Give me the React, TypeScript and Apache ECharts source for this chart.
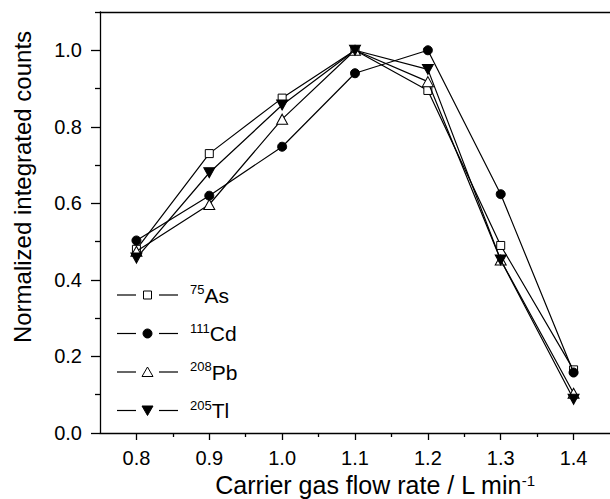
import React, { useEffect, useRef } from "react";
import * as echarts from "echarts";

const flowRates = [0.8, 0.9, 1.0, 1.1, 1.2, 1.3, 1.4];
const asValues = [0.48, 0.73, 0.875, 1.0, 0.895, 0.49, 0.165];
const cdValues = [0.503, 0.62, 0.748, 0.94, 1.0, 0.624, 0.158];
const pbValues = [0.475, 0.597, 0.82, 1.0, 0.918, 0.452, 0.104];
const tlValues = [0.457, 0.68, 0.857, 1.0, 0.95, 0.452, 0.088];

const isotopes = ["75", "111", "208", "205"];
const elements = ["As", "Cd", "Pb", "Tl"];

const xMajorTicks = [0.8, 0.9, 1.0, 1.1, 1.2, 1.3, 1.4];
const xMinorTicks = [0.85, 0.95, 1.05, 1.15, 1.25, 1.35];
const yMajorTicks = [0, 0.2, 0.4, 0.6, 0.8, 1.0];
const yMinorTicks = [0.1, 0.3, 0.5, 0.7, 0.9, 1.1];

const FONT = '"Liberation Sans", Arial, Helvetica, sans-serif';

export default function App() {
  const ref = useRef<HTMLDivElement>(null);
  useEffect(() => {
    if (!ref.current) return;
    const chart = echarts.init(ref.current, undefined, { renderer: "svg" });
    const black = "#000";
    const valuesList = [asValues, cdValues, pbValues, tlValues];
    const toPairs = (vals: number[]) => flowRates.map((x, i) => [x, vals[i]]);

    const symbolDefs = [
      { symbol: "rect", size: 8, fill: "#fff", rotate: 0 },
      { symbol: "circle", size: 9, fill: black, rotate: 0 },
      { symbol: "triangle", size: [11, 10], fill: "#fff", rotate: 0 },
      { symbol: "triangle", size: [11, 10], fill: black, rotate: 180 },
    ];

    const series = valuesList.map((vals, i) => ({
      type: "line",
      name: elements[i],
      data: toPairs(vals),
      xAxisIndex: 0,
      yAxisIndex: 0,
      symbol: symbolDefs[i].symbol,
      symbolSize: symbolDefs[i].size,
      symbolRotate: symbolDefs[i].rotate,
      showAllSymbol: true,
      lineStyle: { color: black, width: 1.2 },
      itemStyle: { color: symbolDefs[i].fill, borderColor: black, borderWidth: 1 },
      emphasis: { disabled: true },
      z: 2 + i,
    }));

    const legendGraphics: any[] = [];
    const rowY0 = 295;
    const rowStep = 38.5;
    isotopes.forEach((iso, i) => {
      const cy = rowY0 + i * rowStep;
      const cx = 147.5;
      legendGraphics.push({
        type: "line",
        shape: { x1: 117, y1: cy, x2: 136, y2: cy },
        style: { stroke: black, lineWidth: 1.2 },
      });
      legendGraphics.push({
        type: "line",
        shape: { x1: 159, y1: cy, x2: 178, y2: cy },
        style: { stroke: black, lineWidth: 1.2 },
      });
      if (i === 0) {
        legendGraphics.push({
          type: "rect",
          shape: { x: cx - 4, y: cy - 4, width: 8, height: 8 },
          style: { fill: "#fff", stroke: black, lineWidth: 1 },
        });
      } else if (i === 1) {
        legendGraphics.push({
          type: "circle",
          shape: { cx, cy, r: 4.5 },
          style: { fill: black, stroke: black, lineWidth: 1 },
        });
      } else if (i === 2) {
        legendGraphics.push({
          type: "polygon",
          shape: { points: [[cx, cy - 5], [cx + 5.5, cy + 4.5], [cx - 5.5, cy + 4.5]] },
          style: { fill: "#fff", stroke: black, lineWidth: 1 },
        });
      } else {
        legendGraphics.push({
          type: "polygon",
          shape: { points: [[cx - 5.5, cy - 4.5], [cx + 5.5, cy - 4.5], [cx, cy + 5]] },
          style: { fill: black, stroke: black, lineWidth: 1 },
        });
      }
      legendGraphics.push({
        type: "text",
        x: 190,
        y: cy,
        style: {
          text: `{s|${iso}}{n|${elements[i]}}`,
          textVerticalAlign: "middle",
          rich: {
            s: { fontSize: 13, fontFamily: FONT, fill: black, verticalAlign: "top", lineHeight: 13 },
            n: { fontSize: 21, fontFamily: FONT, fill: black, lineHeight: 24 },
          },
        },
      });
    });

    const option: any = {
      animation: false,
      backgroundColor: "#fff",
      grid: { left: 100, top: 12, bottom: 66, right: -7, containLabel: false },
      xAxis: [
        {
          type: "value",
          position: "bottom",
          min: 0.75,
          max: 1.45,
          axisLine: { show: true, lineStyle: { color: black, width: 1.3 } },
          axisTick: { show: true, customValues: xMajorTicks, length: 7, lineStyle: { color: black, width: 1.3 } },
          axisLabel: {
            show: true,
            customValues: xMajorTicks,
            margin: 15,
            fontSize: 20,
            fontFamily: FONT,
            color: black,
            formatter: (v: number) => v.toFixed(1),
          },
          splitLine: { show: false },
        },
        {
          type: "value",
          position: "bottom",
          min: 0.75,
          max: 1.45,
          axisLine: { show: false },
          axisTick: { show: true, customValues: xMinorTicks, length: 4, lineStyle: { color: black, width: 1.3 } },
          axisLabel: { show: false },
          splitLine: { show: false },
        },
        {
          type: "value",
          position: "top",
          min: 0.75,
          max: 1.45,
          axisLine: { show: true, lineStyle: { color: black, width: 1.3 } },
          axisTick: { show: false },
          axisLabel: { show: false },
          splitLine: { show: false },
        },
      ],
      yAxis: [
        {
          type: "value",
          position: "left",
          min: 0,
          max: 1.1,
          axisLine: { show: true, lineStyle: { color: black, width: 1.3 } },
          axisTick: { show: true, customValues: yMajorTicks, length: 9, lineStyle: { color: black, width: 1.3 } },
          axisLabel: {
            show: true,
            customValues: yMajorTicks,
            margin: 18,
            fontSize: 20,
            fontFamily: FONT,
            color: black,
            formatter: (v: number) => v.toFixed(1),
          },
          splitLine: { show: false },
        },
        {
          type: "value",
          position: "left",
          min: 0,
          max: 1.1,
          axisLine: { show: false },
          axisTick: { show: true, customValues: yMinorTicks, length: 5, lineStyle: { color: black, width: 1.3 } },
          axisLabel: { show: false },
          splitLine: { show: false },
        },
      ],
      series,
      graphic: [
        ...legendGraphics,
        {
          type: "text",
          x: 22,
          y: 187,
          rotation: Math.PI / 2,
          style: {
            text: "Normalized integrated counts",
            fontSize: 24,
            fontFamily: FONT,
            fill: black,
            textAlign: "center",
            textVerticalAlign: "middle",
          },
        },
        {
          type: "text",
          x: 375,
          y: 485,
          style: {
            text: "{n|Carrier gas flow rate / L min}{s|-1}",
            textAlign: "center",
            textVerticalAlign: "middle",
            rich: {
              n: { fontSize: 25, fontFamily: FONT, fill: black, lineHeight: 25 },
              s: { fontSize: 15, fontFamily: FONT, fill: black, verticalAlign: "top", lineHeight: 15 },
            },
          },
        },
      ],
    };
    chart.setOption(option);
    return () => chart.dispose();
  }, []);
  return (
    <div
      ref={ref}
      style={{ position: "absolute", left: 0, top: 0, width: 610, height: 499, background: "#fff" }}
    />
  );
}
